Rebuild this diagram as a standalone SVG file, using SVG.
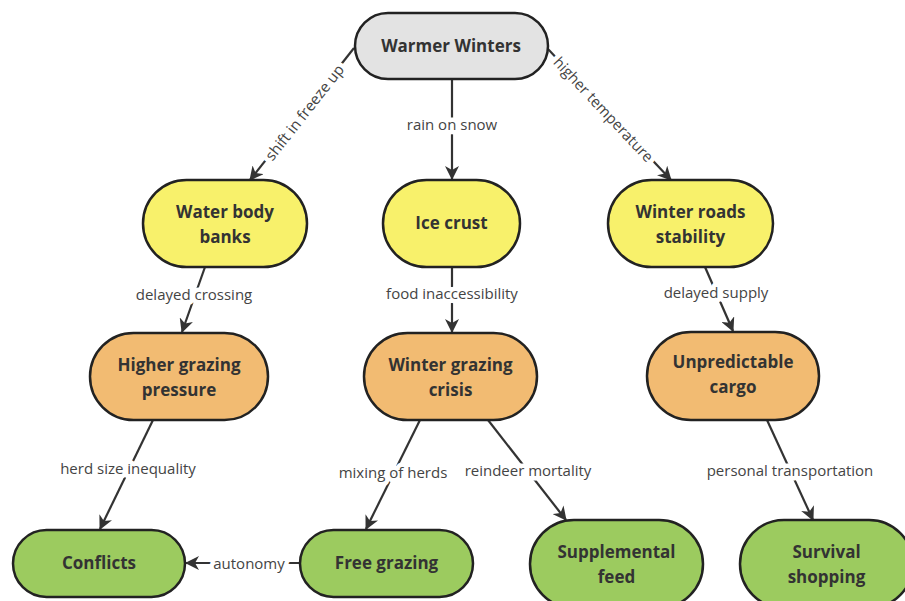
<svg xmlns="http://www.w3.org/2000/svg" width="905" height="601" viewBox="0 0 905 601">
<defs>
<marker id="arr" viewBox="0 0 14 14" refX="13" refY="7" markerWidth="14" markerHeight="14" markerUnits="userSpaceOnUse" orient="auto">
<path d="M0,0 L14,7 L0,14 L4,7 z" fill="#333"/>
</marker>
<style>
.n{stroke:#222;stroke-width:2.5}
.g{fill:#e3e3e3}.y{fill:#f8f16b}.o{fill:#f2bb72}.gr{fill:#9ccb5f}
.t{font-family:"Open Sans","Liberation Sans",sans-serif;font-weight:bold;font-size:17px;fill:#333;text-anchor:middle}
.e{stroke:#333;stroke-width:2.2;fill:none;marker-end:url(#arr)}
.l{font-family:"Open Sans","Liberation Sans",sans-serif;font-size:15px;fill:#444;text-anchor:middle;dominant-baseline:central;stroke:#fff;stroke-width:9;paint-order:stroke;stroke-linejoin:round}
</style>
</defs>
<g id="connectors">
<line class="e" x1="354" y1="48" x2="250" y2="180"/>
<line class="e" x1="452" y1="79" x2="452" y2="179"/>
<line class="e" x1="548" y1="49" x2="671" y2="180"/>
<line class="e" x1="205" y1="267" x2="182" y2="332"/>
<line class="e" x1="452" y1="267" x2="452" y2="332"/>
<line class="e" x1="705" y1="267" x2="733" y2="331"/>
<line class="e" x1="153" y1="420" x2="100" y2="529"/>
<line class="e" x1="420" y1="420" x2="366" y2="529"/>
<line class="e" x1="488" y1="420" x2="566" y2="520"/>
<line class="e" x1="767" y1="420" x2="813" y2="520"/>
<line class="e" x1="300" y1="563" x2="186" y2="563"/>
<text class="l" transform="translate(304,112) rotate(-51.8)">shift in freeze up</text>
<text class="l" x="452" y="124">rain on snow</text>
<text class="l" transform="translate(604,109) rotate(46.8)">higher temperature</text>
<text class="l" x="194" y="294">delayed crossing</text>
<text class="l" x="452" y="293">food inaccessibility</text>
<text class="l" x="716" y="292">delayed supply</text>
<text class="l" x="128" y="468">herd size inequality</text>
<text class="l" x="393" y="472">mixing of herds</text>
<text class="l" x="528" y="470">reindeer mortality</text>
<text class="l" x="790" y="470">personal transportation</text>
<text class="l" x="249" y="563">autonomy</text>
</g>
<g id="warmer-winters"><rect class="n g" x="355" y="13" width="193" height="66" rx="33"/><text class="t" x="451" y="52">Warmer Winters</text></g>
<g id="water-body-banks"><rect class="n y" x="143" y="180" width="164" height="87" rx="43.5"/><text class="t" x="225" y="218">Water body</text><text class="t" x="225" y="243">banks</text></g>
<g id="ice-crust"><rect class="n y" x="383" y="180" width="137" height="87" rx="43.5"/><text class="t" x="451.5" y="229">Ice crust</text></g>
<g id="winter-roads-stability"><rect class="n y" x="608" y="180" width="165" height="87" rx="43.5"/><text class="t" x="690.5" y="218">Winter roads</text><text class="t" x="690.5" y="243">stability</text></g>
<g id="higher-grazing-pressure"><rect class="n o" x="90" y="333" width="178" height="87" rx="43.5"/><text class="t" x="179" y="371">Higher grazing</text><text class="t" x="179" y="396">pressure</text></g>
<g id="winter-grazing-crisis"><rect class="n o" x="364" y="333" width="173" height="87" rx="43.5"/><text class="t" x="450.5" y="371">Winter grazing</text><text class="t" x="450.5" y="396">crisis</text></g>
<g id="unpredictable-cargo"><rect class="n o" x="647" y="332" width="172" height="88" rx="44"/><text class="t" x="733" y="368">Unpredictable</text><text class="t" x="733" y="393">cargo</text></g>
<g id="conflicts"><rect class="n gr" x="13" y="530" width="172" height="67" rx="33.5"/><text class="t" x="99" y="569">Conflicts</text></g>
<g id="free-grazing"><rect class="n gr" x="300" y="530" width="173" height="67" rx="33.5"/><text class="t" x="386.5" y="569">Free grazing</text></g>
<g id="supplemental-feed"><rect class="n gr" x="530" y="520" width="173" height="88" rx="44"/><text class="t" x="616.5" y="558">Supplemental</text><text class="t" x="616.5" y="583">feed</text></g>
<g id="survival-shopping"><rect class="n gr" x="740" y="520" width="173" height="88" rx="44"/><text class="t" x="826.5" y="558">Survival</text><text class="t" x="826.5" y="583">shopping</text></g>
</svg>
